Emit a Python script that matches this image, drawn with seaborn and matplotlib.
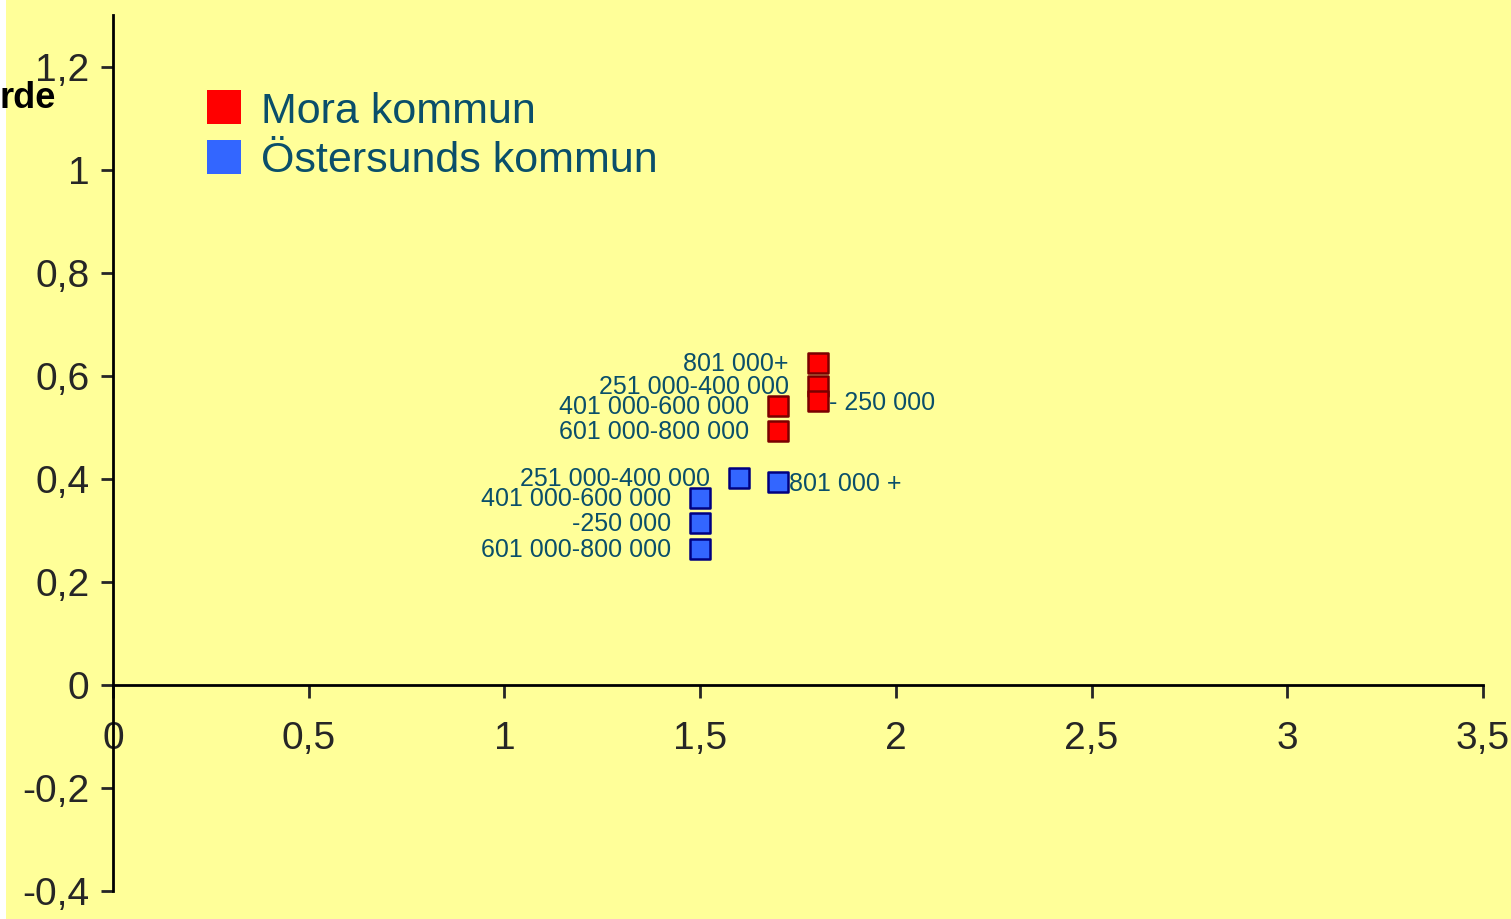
import matplotlib
matplotlib.use("Agg")
import matplotlib.pyplot as plt
import seaborn as sns
import pandas as pd
from matplotlib.patches import Rectangle
from matplotlib.lines import Line2D

# data
mora_labels = ["801 000+", "251 000-400 000", "- 250 000", "401 000-600 000", "601 000-800 000"]
mora_x = [1.8, 1.8, 1.8, 1.7, 1.7]
mora_y = [0.624, 0.580, 0.551, 0.541, 0.492]

ost_labels = ["251 000-400 000", "801 000 +", "401 000-600 000", "-250 000", "601 000-800 000"]
ost_x = [1.6, 1.7, 1.5, 1.5, 1.5]
ost_y = [0.401, 0.393, 0.362, 0.314, 0.264]

series_names = ["Mora kommun", "Östersunds kommun"]
x_ticks = [0, 0.5, 1, 1.5, 2, 2.5, 3, 3.5]
y_ticks = [-0.4, -0.2, 0, 0.2, 0.4, 0.6, 0.8, 1, 1.2]

# which side of the marker each label sits on
mora_side = ["left", "left", "right", "left", "left"]
ost_side = ["left", "right", "left", "left", "left"]

sns.set_style("ticks")
plt.rcParams["font.family"] = ["Liberation Sans", "DejaVu Sans"]

text_col = "#0A4F6A"
fill = {"Mora kommun": "#FF0000", "Östersunds kommun": "#3366FF"}
edge = {"Mora kommun": "#7A0000", "Östersunds kommun": "#000080"}

df = pd.concat([
    pd.DataFrame({"x": mora_x, "y": mora_y, "label": mora_labels, "side": mora_side, "serie": series_names[0]}),
    pd.DataFrame({"x": ost_x, "y": ost_y, "label": ost_labels, "side": ost_side, "serie": series_names[1]}),
])

fig = plt.figure(figsize=(15.11, 9.19), dpi=100)
fig.patch.set_facecolor("white")
fig.add_artist(Rectangle((6 / 1511, 0), 1, 1, transform=fig.transFigure,
                         facecolor="#FFFF99", edgecolor="none", zorder=-10))

ax = fig.add_axes([113 / 1511, 28 / 919, 1370 / 1511, 876 / 919])
ax.set_facecolor("none")

for name in series_names:
    sub = df[df["serie"] == name]
    sns.scatterplot(data=sub, x="x", y="y", ax=ax, marker="s", s=200,
                    color=fill[name], edgecolor=edge[name], linewidth=1.8,
                    legend=False, zorder=3)
    for _, r in sub.iterrows():
        if r["side"] == "left":
            ax.annotate(r["label"], (r["x"], r["y"]), xytext=(-29, -1),
                        textcoords="offset pixels", ha="right", va="center",
                        fontsize=18, color=text_col)
        else:
            ax.annotate(r["label"], (r["x"], r["y"]), xytext=(11, -2),
                        textcoords="offset pixels", ha="left", va="center",
                        fontsize=18, color=text_col)

ax.set_xlim(0, 3.5)
ax.set_ylim(-0.4, 1.3)
ax.spines["top"].set_visible(False)
ax.spines["right"].set_visible(False)
ax.spines["bottom"].set_position(("data", 0))
for s in ["left", "bottom"]:
    ax.spines[s].set_linewidth(2)
    ax.spines[s].set_color("black")

fmt = lambda v: ("%g" % v).replace(".", ",")
ax.set_xticks(x_ticks)
ax.set_xticklabels([fmt(v) for v in x_ticks])
ax.set_yticks(y_ticks)
ax.set_yticklabels([fmt(v) for v in y_ticks])
ax.tick_params(axis="x", direction="out", length=9, width=2, pad=17, labelsize=28)
ax.tick_params(axis="y", direction="out", length=9, width=2, pad=8, labelsize=28)
ax.set_xlabel("")
ax.set_ylabel("")

# cut-off axis title at top left
fig.text(0, 1 - 98 / 919, "rde", ha="left", va="center", fontsize=26,
         fontweight="bold", color="black")

handles = [Line2D([], [], marker="s", linestyle="", markersize=24,
                  markerfacecolor=fill[n], markeredgewidth=0) for n in series_names]
leg = fig.legend(handles, series_names, loc="upper left",
                 bbox_to_anchor=(181 / 1511, 1 - 70 / 919), frameon=False,
                 fontsize=31, handletextpad=0.35, labelspacing=0.22,
                 borderpad=0, handlelength=1.0)
for t in leg.get_texts():
    t.set_color(text_col)

fig.savefig("out.png", dpi=100)
